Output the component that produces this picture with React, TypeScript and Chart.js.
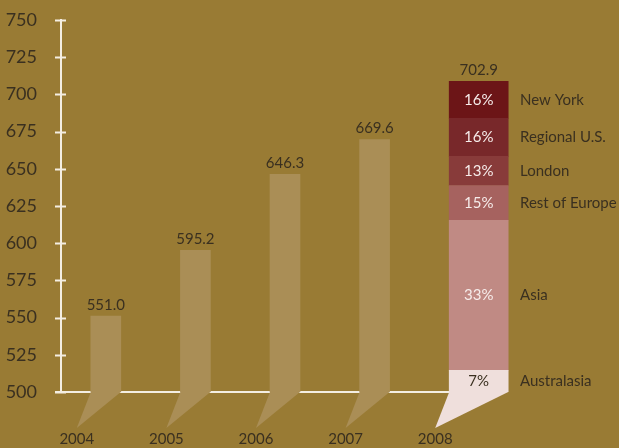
import React, { useEffect, useRef } from 'react';
import { Chart, registerables } from 'chart.js';

Chart.register(...registerables);

// ---- data ----
const years = ['2004', '2005', '2006', '2007', '2008'];
const revenue: (number | null)[] = [551.0, 595.2, 646.3, 669.6, null];
const totalLabels = ['551.0', '595.2', '646.3', '669.6', '702.9'];
const regions = ['Australasia', 'Asia', 'Rest of Europe', 'London', 'Regional U.S.', 'New York'];
const regionShares = [7, 33, 15, 13, 16, 16];
// top of each 2008 segment on the value axis (bottom of first segment is axis minimum)
const regionTops = [514.5, 615.3, 638.8, 658.3, 684.0, 708.7];
const yMin = 500;
const yMax = 750;
const yStep = 25;

// ---- styles ----
const BG = '#997B34';
const BAR = '#AA8E56';
const TEXT = '#3A3020';
const LINE = '#F4EEE2';
const regionColors = ['#EFDFDC', '#C08A84', '#A6625F', '#883B3A', '#78282A', '#6C1517'];
const regionTextColors = ['#3A3020', '#F6ECEA', '#F6ECEA', '#F6ECEA', '#F6ECEA', '#F6ECEA'];
const FONT = 'Lato, "Liberation Sans", sans-serif';
const NARROW = 30;
const WIDE = 59;
const TAIL_DX = -29;
const TAIL_DY = 36;

const lastIdx = years.length - 1;

const decorPlugin = {
  id: 'decor',
  afterDatasetsUpdate(chart: any) {
    const xs = chart.scales.x;
    for (let d = 1; d < chart.data.datasets.length; d++) {
      const el = chart.getDatasetMeta(d).data[lastIdx];
      if (el) el.x = xs.getPixelForValue(lastIdx) + (WIDE - NARROW) / 2;
    }
  },
  beforeDatasetsDraw(chart: any) {
    const { ctx, chartArea, scales } = chart;
    const xs = scales.x;
    const base = scales.y.getPixelForValue(yMin);
    const lastBottom = chart.getDatasetMeta(1).data[lastIdx];
    ctx.save();
    // baseline
    ctx.strokeStyle = LINE;
    ctx.lineWidth = 2;
    ctx.beginPath();
    ctx.moveTo(chartArea.left - 6, base);
    ctx.lineTo(lastBottom.x, base);
    ctx.stroke();
    // tails
    for (let i = 0; i < years.length; i++) {
      const isLast = i === lastIdx;
      const el = isLast ? lastBottom : chart.getDatasetMeta(0).data[i];
      if (!el) continue;
      const half = (isLast ? WIDE : NARROW) / 2;
      const tipX = xs.getPixelForValue(i) + TAIL_DX;
      ctx.fillStyle = isLast ? regionColors[0] : BAR;
      ctx.beginPath();
      ctx.moveTo(el.x - half, base);
      ctx.lineTo(el.x + half, base);
      ctx.lineTo(tipX, base + TAIL_DY);
      ctx.closePath();
      ctx.fill();
    }
    ctx.restore();
  },
  afterDatasetsDraw(chart: any) {
    const { ctx, chartArea, scales } = chart;
    const ys = scales.y;
    ctx.save();
    // y tick marks crossing the axis
    ctx.strokeStyle = LINE;
    ctx.lineWidth = 2;
    for (let v = yMin; v <= yMax; v += yStep) {
      const py = Math.round(ys.getPixelForValue(v)) + 0.5;
      ctx.beginPath();
      ctx.moveTo(chartArea.left - 6, py);
      ctx.lineTo(chartArea.left + 5, py);
      ctx.stroke();
    }
    ctx.font = `15px ${FONT}`;
    ctx.textBaseline = 'middle';
    ctx.textAlign = 'center';
    ctx.fillStyle = TEXT;
    // totals
    for (let i = 0; i < years.length; i++) {
      const el = i === lastIdx
        ? chart.getDatasetMeta(chart.data.datasets.length - 1).data[i]
        : chart.getDatasetMeta(0).data[i];
      if (!el) continue;
      ctx.fillText(totalLabels[i], el.x, el.y - 11);
    }
    // segment labels
    for (let r = 0; r < regions.length; r++) {
      const el = chart.getDatasetMeta(r + 1).data[lastIdx];
      const cy = (el.y + el.base) / 2;
      ctx.textAlign = 'center';
      ctx.fillStyle = regionTextColors[r];
      ctx.fillText(regionShares[r] + '%', el.x, cy);
      ctx.textAlign = 'left';
      ctx.fillStyle = TEXT;
      ctx.fillText(regions[r], chartArea.right + 11, cy);
    }
    ctx.restore();
  },
};

export default function App() {
  const ref = useRef<HTMLCanvasElement | null>(null);

  useEffect(() => {
    if (!ref.current) return;
    const segmentDatasets = regions.map((name, r) => ({
      label: name,
      data: years.map((_, i) => (i === lastIdx ? [r === 0 ? yMin : regionTops[r - 1], regionTops[r]] : null)),
      backgroundColor: regionColors[r],
      barThickness: WIDE,
      grouped: false,
    }));
    const chart = new Chart(ref.current, {
      type: 'bar',
      data: {
        labels: years,
        datasets: [
          {
            label: 'Revenue',
            data: revenue,
            backgroundColor: BAR,
            barThickness: NARROW,
            grouped: false,
          } as any,
          ...(segmentDatasets as any),
        ],
      },
      options: {
        animation: false,
        responsive: false,
        layout: { padding: { left: 0, right: 110, top: 20, bottom: 0 } },
        plugins: { legend: { display: false }, tooltip: { enabled: false } },
        scales: {
          x: {
            grid: { display: false, drawTicks: false },
            border: { display: false },
            ticks: {
              color: TEXT,
              font: { family: FONT, size: 15 },
              labelOffset: TAIL_DX,
              padding: 38,
              maxRotation: 0,
            },
            afterFit: (s: any) => { s.height = 56; s.paddingLeft = 0; s.paddingRight = 0; },
          },
          y: {
            min: yMin,
            max: yMax,
            grid: { display: false, drawTicks: false },
            border: { display: true, color: LINE, width: 2 },
            ticks: {
              stepSize: yStep,
              color: TEXT,
              font: { family: FONT, size: 18 },
              padding: 24,
            },
            afterFit: (s: any) => { s.width = 61; s.paddingTop = 0; s.paddingBottom = 0; },
          },
        },
      },
      plugins: [decorPlugin],
    });
    return () => chart.destroy();
  }, []);

  return (
    <div style={{ position: 'fixed', left: 0, top: 0, width: 619, height: 448, background: BG, overflow: 'hidden' }}>
      <canvas ref={ref} width={619} height={448} style={{ display: 'block' }} />
    </div>
  );
}
